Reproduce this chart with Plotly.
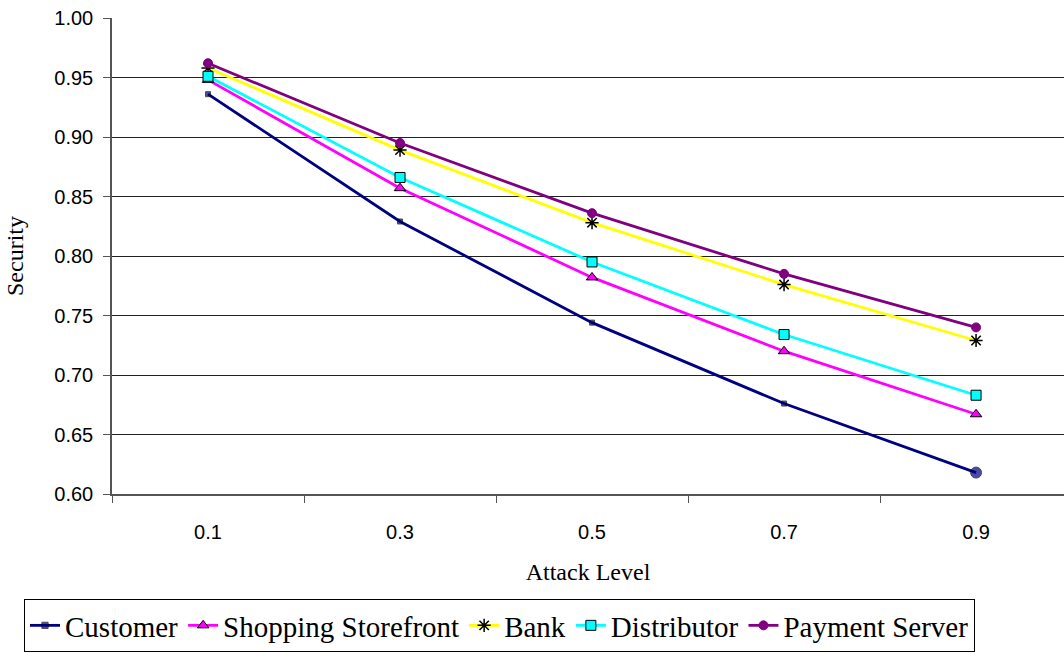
import plotly.graph_objects as go

attack_levels = ["0.1", "0.3", "0.5", "0.7", "0.9"]

customer = [0.936, 0.829, 0.744, 0.676, 0.618]
storefront = [0.948, 0.857, 0.782, 0.720, 0.667]
bank = [0.958, 0.889, 0.828, 0.776, 0.729]
distributor = [0.951, 0.866, 0.795, 0.734, 0.683]
payment_server = [0.962, 0.895, 0.836, 0.785, 0.740]

y_ticks = [0.60, 0.65, 0.70, 0.75, 0.80, 0.85, 0.90, 0.95, 1.00]

SERIF = "Liberation Serif, Times New Roman, Times, serif"
SANS = "Liberation Sans, Arial, Helvetica, sans-serif"

fig = go.Figure()

fig.add_trace(go.Scatter(
    x=attack_levels, y=customer, name="Customer", mode="lines+markers",
    line=dict(color="#000080", width=2.8),
    marker=dict(symbol=["square"] * 4 + ["circle"], size=[5, 5, 5, 5, 11],
                color="#000080", line=dict(color="#000000", width=1)),
))
fig.add_trace(go.Scatter(
    x=attack_levels, y=storefront, name="Shopping Storefront", mode="lines+markers",
    line=dict(color="#FF00FF", width=2.8),
    marker=dict(symbol="triangle-up", size=10, color="#FF00FF",
                line=dict(color="#000000", width=1)),
))
fig.add_trace(go.Scatter(
    x=attack_levels, y=bank, name="Bank", mode="lines+markers",
    line=dict(color="#FFFF00", width=2.8),
    marker=dict(symbol="asterisk-open", size=11, color="#000000",
                line=dict(color="#000000", width=1.5)),
))
fig.add_trace(go.Scatter(
    x=attack_levels, y=distributor, name="Distributor", mode="lines+markers",
    line=dict(color="#00FFFF", width=2.8),
    marker=dict(symbol="square", size=10, color="#00FFFF",
                line=dict(color="#000000", width=1)),
))
fig.add_trace(go.Scatter(
    x=attack_levels, y=payment_server, name="Payment Server", mode="lines+markers",
    line=dict(color="#800080", width=2.8),
    marker=dict(symbol="circle", size=9, color="#800080",
                line=dict(color="#800080", width=1)),
))

fig.update_layout(
    width=1064, height=653,
    margin=dict(l=112, r=0, t=18, b=159, autoexpand=False),
    plot_bgcolor="white", paper_bgcolor="white",
    font=dict(family=SERIF, color="#000000"),
    showlegend=True,
    legend=dict(
        orientation="h", x=24 / 1064, xanchor="left", xref="container",
        y=1 - 599 / 653, yanchor="top", yref="container",
        bordercolor="#000000", borderwidth=1,
        font=dict(family=SERIF, size=29, color="#000000"),
        itemwidth=30, tracegroupgap=0,
    ),
)

fig.update_xaxes(
    type="category", range=[-0.5, 4.458],
    tickfont=dict(family=SANS, size=20, color="#000000"),
    ticks="outside", tickson="boundaries", ticklen=7, tickcolor="#555555",
    ticklabelstandoff=19,
    showline=True, linecolor="#555555", linewidth=1.5,
    showgrid=False, zeroline=False,
    title=dict(text="Attack Level", standoff=21,
               font=dict(family=SERIF, size=24, color="#000000")),
)
fig.update_yaxes(
    range=[0.60, 1.00], tickvals=y_ticks, tickformat=".2f",
    tickfont=dict(family=SANS, size=20, color="#000000"),
    ticks="outside", ticklen=7, tickcolor="#555555",
    ticklabelstandoff=6,
    showline=True, linecolor="#555555", linewidth=1.5,
    showgrid=True, gridcolor="#222222", gridwidth=1,
    zeroline=False,
    title=dict(text="Security", standoff=24,
               font=dict(family=SERIF, size=24, color="#000000")),
)

fig.write_html("out.html")
